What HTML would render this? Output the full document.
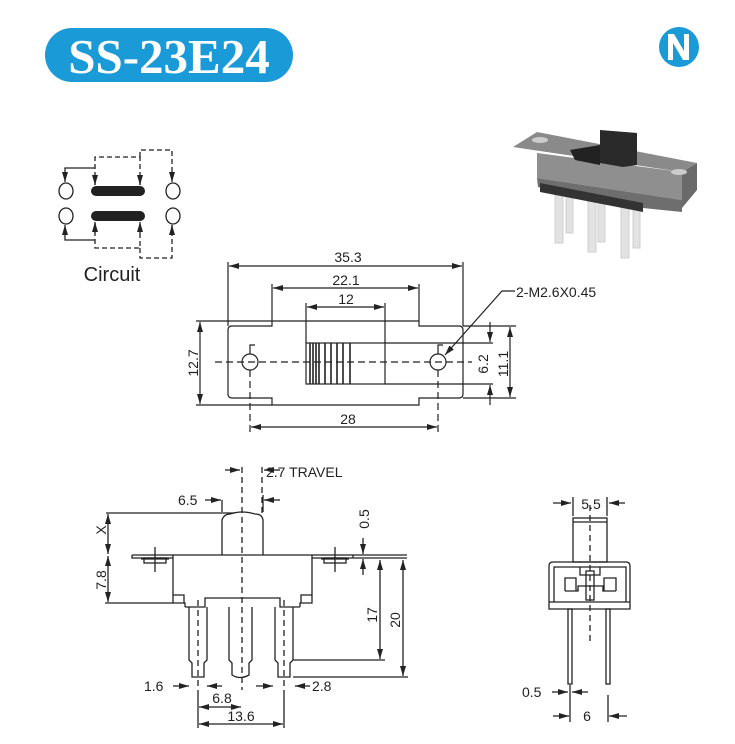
<!DOCTYPE html>
<html><head><meta charset="utf-8"><style>
html,body{margin:0;padding:0;background:#fff}
svg{display:block}
text{font-family:"Liberation Sans",sans-serif;fill:#222}
</style></head><body>
<svg width="735" height="744" viewBox="0 0 735 744" xmlns="http://www.w3.org/2000/svg">
<defs>
<marker id="a" viewBox="0 0 10 6" refX="10" refY="3" markerWidth="10" markerHeight="6" markerUnits="userSpaceOnUse" orient="auto-start-reverse"><path d="M0,0 L10,3 L0,6 z" fill="#222"/></marker>
</defs>
<!-- title -->
<rect x="45" y="28" width="248" height="54" rx="27" fill="#1a9ad6"/>
<text x="169" y="73" text-anchor="middle" style="font-family:'Liberation Serif',serif;font-weight:bold;font-size:49px;fill:#fff">SS-23E24</text>
<!-- logo -->
<circle cx="679" cy="47" r="20" fill="#1a9ad6"/>
<path d="M668,34 h6 l10,17 v-17 h5 v26 h-6 l-10,-17 v17 h-5 z" fill="#fff"/>
<!-- photo -->
<g>
<g fill="#e2e2e2" stroke="#cfcfcf">
<rect x="555" y="185" width="8" height="58"/><rect x="566" y="185" width="7" height="48"/>
<rect x="588" y="192" width="8" height="60"/><rect x="598" y="192" width="7" height="50"/>
<rect x="621" y="200" width="8" height="58"/><rect x="633" y="200" width="7" height="48"/>
</g>
<polygon points="513,147 537,132 697,163 682,172" fill="#8a8a8a"/>
<polygon points="537,153 682,172 682,200 537,178" fill="#8f8f8f"/>
<polygon points="537,178 682,200 682,212 643,208 538,187" fill="#6e6e6e"/>
<polygon points="540,183 643,203 643,212 540,192" fill="#333"/>
<polygon points="682,172 697,163 697,190 682,208" fill="#6a6a6a"/>
<polygon points="570,150 600,145 600,165 575,160" fill="#222"/>
<polygon points="600,130 637,133 637,165 623,167 600,163" fill="#2a2a2a"/>
<ellipse cx="540" cy="140" rx="8" ry="3" fill="#ccc"/>
<ellipse cx="679" cy="172" rx="8" ry="3" fill="#ccc"/>
</g>
<g stroke="#222" fill="none" stroke-width="1.3">
<!-- circuit -->
<ellipse cx="66" cy="191" rx="7" ry="8"/><ellipse cx="66" cy="216" rx="7" ry="8"/>
<ellipse cx="173" cy="191" rx="7" ry="8"/><ellipse cx="173" cy="216" rx="7" ry="8"/>
<line x1="96" y1="191" x2="140" y2="191" stroke-width="10" stroke-linecap="round"/>
<line x1="96" y1="216" x2="140" y2="216" stroke-width="10" stroke-linecap="round"/>
<g stroke-dasharray="5,3">
<path d="M95,185 V157 H140 V185"/><path d="M140,157 V150 H172 V182"/>
<path d="M95,223 V248 H140 V223"/><path d="M140,248 V258 H172 V225"/>
</g>
<path d="M95,168 H65 V182" marker-end="url(#a)"/>
<path d="M95,240 H65 V225" marker-end="url(#a)"/>
<line x1="95" y1="175" x2="95" y2="185" marker-end="url(#a)"/>
<line x1="140" y1="175" x2="140" y2="185" marker-end="url(#a)"/>
<line x1="172" y1="172" x2="172" y2="182" marker-end="url(#a)"/>
<line x1="95" y1="233" x2="95" y2="222" marker-end="url(#a)"/>
<line x1="140" y1="233" x2="140" y2="222" marker-end="url(#a)"/>
<line x1="172" y1="235" x2="172" y2="225" marker-end="url(#a)"/>
</g>
<text x="112" y="281" text-anchor="middle" font-size="20">Circuit</text>

<!-- top view -->
<g stroke="#222" fill="none" stroke-width="1.2">
<path d="M232,326 H272 V321 H419 V326 H459 Q463,326 463,330 V394 Q463,398 459,398 H419 V405 H272 V398 H232 Q228,398 228,394 V330 Q228,326 232,326 Z"/>
<rect x="306" y="343" width="79" height="41"/>
<path d="M310,343V384M313,343V384M316,343V384M319,343V384M325,343V384M331,343V384M337,343V384M343,343V384M350,343V384" stroke-width="1.6"/>
<circle cx="250" cy="362" r="8"/><circle cx="438" cy="362" r="8"/>
<path d="M250,354 V345 h5" /><path d="M438,354 V345 h5"/>
<line x1="215" y1="362" x2="472" y2="362" stroke-dasharray="7,4"/>
<line x1="250" y1="370" x2="250" y2="432" stroke-dasharray="7,4"/>
<line x1="438" y1="370" x2="438" y2="432" stroke-dasharray="7,4"/>
<line x1="228" y1="326" x2="228" y2="262"/><line x1="463" y1="326" x2="463" y2="262"/>
<line x1="229" y1="266" x2="462" y2="266" marker-start="url(#a)" marker-end="url(#a)"/>
<line x1="272" y1="321" x2="272" y2="284"/><line x1="419" y1="321" x2="419" y2="284"/>
<line x1="273" y1="288" x2="418" y2="288" marker-start="url(#a)" marker-end="url(#a)"/>
<line x1="306" y1="343" x2="306" y2="303"/><line x1="385" y1="343" x2="385" y2="303"/>
<line x1="307" y1="307" x2="384" y2="307" marker-start="url(#a)" marker-end="url(#a)"/>
<line x1="251" y1="427" x2="437" y2="427" marker-start="url(#a)" marker-end="url(#a)"/>
<line x1="196" y1="321" x2="272" y2="321"/><line x1="196" y1="405" x2="272" y2="405"/>
<line x1="200" y1="322" x2="200" y2="404" marker-start="url(#a)" marker-end="url(#a)"/>
<line x1="385" y1="343" x2="493" y2="343"/><line x1="385" y1="384" x2="493" y2="384"/>
<line x1="490" y1="322" x2="490" y2="342" marker-end="url(#a)"/>
<line x1="490" y1="405" x2="490" y2="385" marker-end="url(#a)"/>
<line x1="463" y1="326" x2="516" y2="326"/><line x1="463" y1="398" x2="516" y2="398"/>
<line x1="510" y1="327" x2="510" y2="397" marker-start="url(#a)" marker-end="url(#a)"/>
<path d="M515,291 H502 L445,355" marker-end="url(#a)"/>
</g>
<text x="348" y="262" text-anchor="middle" font-size="14">35.3</text>
<text x="346" y="285" text-anchor="middle" font-size="14">22.1</text>
<text x="346" y="304" text-anchor="middle" font-size="14">12</text>
<text x="348" y="424" text-anchor="middle" font-size="14">28</text>
<text x="516" y="297" font-size="14">2-M2.6X0.45</text>
<text transform="translate(198,363) rotate(-90)" text-anchor="middle" font-size="14">12.7</text>
<text transform="translate(488,364) rotate(-90)" text-anchor="middle" font-size="14">6.2</text>
<text transform="translate(508,364) rotate(-90)" text-anchor="middle" font-size="14">11.1</text>

<!-- side view -->
<g stroke="#222" fill="none" stroke-width="1.3">
<path d="M132,555 H407 M132,555 V558 H173 M312,558 H353 V555 M353,558 H407"/>
<rect x="144" y="558" width="22" height="5"/><rect x="324" y="558" width="22" height="5"/>
<path d="M155,547 V572 M141,559 H169 M335,547 V572 M321,559 H349"/>
<path d="M173,555 V603 H185 V607 M173,595 H184 V603"/>
<path d="M312,555 V603 H300 V607 M312,595 H301 V603"/>
<path d="M185,607 H205 V598 H280 V607 H300"/>
<path d="M222,555 V520 Q224,514 230,514 Q242,510 255,514 Q262,514 263,520 V555"/>
<path d="M189,607 V660 L192,663 V677 H204 V663 L207,660 V607"/>
<path d="M229,607 V660 L232,663 V675 Q240,680 249,675 V663 L252,660 V607"/>
<path d="M275,607 V660 L278,663 V677 H290 V663 L293,660 V607"/>
<g stroke-dasharray="6,4"><line x1="198" y1="600" x2="198" y2="690"/><line x1="242" y1="467" x2="242" y2="690"/><line x1="262" y1="467" x2="262" y2="515"/><line x1="284" y1="600" x2="284" y2="690"/></g>
<line x1="225" y1="470" x2="240" y2="470" marker-end="url(#a)"/>
<line x1="280" y1="470" x2="264" y2="470" marker-end="url(#a)"/>
<line x1="205" y1="500" x2="221" y2="500" marker-end="url(#a)"/>
<line x1="280" y1="500" x2="264" y2="500" marker-end="url(#a)"/>
<line x1="222" y1="500" x2="222" y2="512"/><line x1="263" y1="495" x2="263" y2="512"/>
<line x1="106" y1="513" x2="235" y2="513"/>
<line x1="108" y1="514" x2="108" y2="554" marker-start="url(#a)" marker-end="url(#a)"/>
<line x1="105" y1="603" x2="173" y2="603"/>
<line x1="108" y1="556" x2="108" y2="602" marker-start="url(#a)" marker-end="url(#a)"/>
<line x1="363" y1="538" x2="363" y2="554" marker-end="url(#a)"/>
<line x1="363" y1="575" x2="363" y2="559" marker-end="url(#a)"/>
<line x1="293" y1="660" x2="385" y2="660"/><line x1="293" y1="677" x2="408" y2="677"/>
<line x1="380" y1="560" x2="380" y2="659" marker-start="url(#a)" marker-end="url(#a)"/>
<line x1="403" y1="560" x2="403" y2="676" marker-start="url(#a)" marker-end="url(#a)"/>
<line x1="173" y1="686" x2="189" y2="686" marker-end="url(#a)"/>
<line x1="222" y1="686" x2="207" y2="686" marker-end="url(#a)"/>
<line x1="256" y1="686" x2="273" y2="686" marker-end="url(#a)"/>
<line x1="310" y1="686" x2="295" y2="686" marker-end="url(#a)"/>
<line x1="198" y1="690" x2="198" y2="728"/><line x1="284" y1="690" x2="284" y2="728"/>
<line x1="199" y1="707" x2="241" y2="707" marker-start="url(#a)" marker-end="url(#a)"/>
<line x1="199" y1="724" x2="283" y2="724" marker-start="url(#a)" marker-end="url(#a)"/>
</g>
<text x="266" y="477" font-size="14">2.7  TRAVEL</text>
<text x="178" y="505" font-size="14">6.5</text>
<text transform="translate(106,530) rotate(-90)" text-anchor="middle" font-size="14">X</text>
<text transform="translate(106,580) rotate(-90)" text-anchor="middle" font-size="14">7.8</text>
<text transform="translate(369,519) rotate(-90)" text-anchor="middle" font-size="14">0.5</text>
<text transform="translate(377,615) rotate(-90)" text-anchor="middle" font-size="14">17</text>
<text transform="translate(400,620) rotate(-90)" text-anchor="middle" font-size="14">20</text>
<text x="144" y="691" font-size="14">1.6</text>
<text x="312" y="691" font-size="14">2.8</text>
<text x="222" y="703" text-anchor="middle" font-size="14">6.8</text>
<text x="241" y="721" text-anchor="middle" font-size="14">13.6</text>

<!-- front view -->
<g stroke="#222" fill="none" stroke-width="1.3">
<rect x="573" y="518" width="34" height="44"/><line x1="573" y1="522" x2="607" y2="522"/>
<path d="M549,609 V566 Q549,562 553,562 H626 Q630,562 630,566 V609 Z"/>
<line x1="549" y1="602" x2="630" y2="602"/>
<path d="M554,602 V567 H626 V602"/>
<path d="M565,591 V578 H576 V591 M604,591 V578 H616 V591 M565,591 H578 V589 M603,589 V591 H616"/>
<path d="M578,591 V586 H586 V571 H594 V586 H603 V591 M580,567 V575 H600 V567"/>
<rect x="586" y="586" width="8" height="14"/>
<rect x="568" y="609" width="4" height="75"/><rect x="606" y="609" width="4" height="75"/>
<line x1="590" y1="505" x2="590" y2="645" stroke-dasharray="6,4"/>
<line x1="573" y1="497" x2="573" y2="516"/><line x1="607" y1="497" x2="607" y2="516"/>
<line x1="553" y1="503" x2="571" y2="503" marker-end="url(#a)"/>
<line x1="625" y1="503" x2="609" y2="503" marker-end="url(#a)"/>
<line x1="570" y1="685" x2="570" y2="722"/><line x1="608" y1="695" x2="608" y2="722"/>
<line x1="552" y1="692" x2="568" y2="692" marker-end="url(#a)"/>
<line x1="588" y1="692" x2="572" y2="692" marker-end="url(#a)"/>
<line x1="553" y1="716" x2="569" y2="716" marker-end="url(#a)"/>
<line x1="627" y1="716" x2="609" y2="716" marker-end="url(#a)"/>
</g>
<text x="591" y="509" text-anchor="middle" font-size="14">5.5</text>
<text x="522" y="697" font-size="14">0.5</text>
<text x="587" y="721" text-anchor="middle" font-size="14">6</text>
</svg>
</body></html>
